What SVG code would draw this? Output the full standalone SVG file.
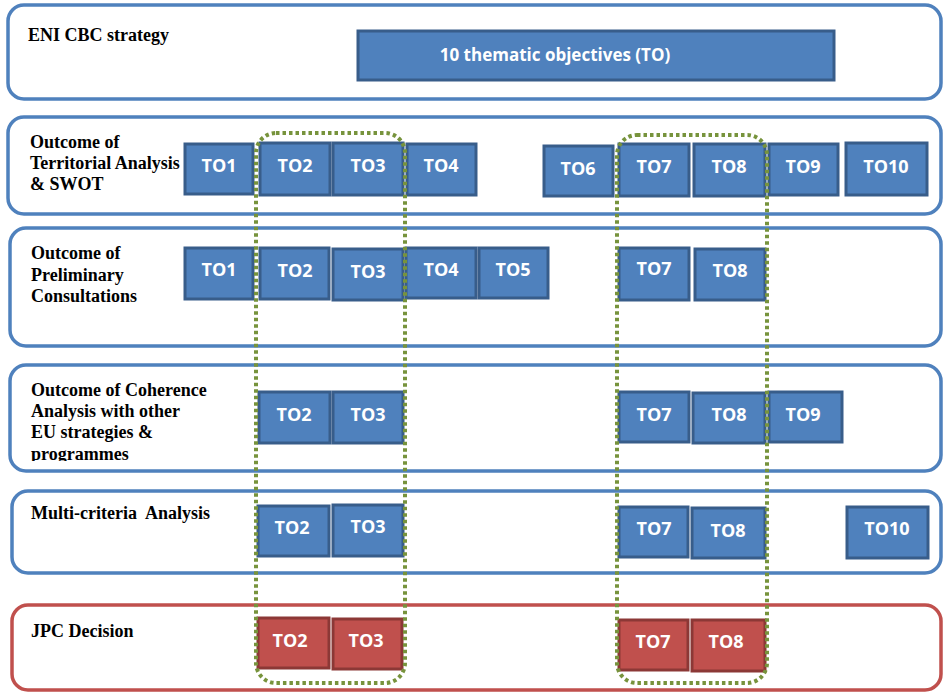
<svg xmlns="http://www.w3.org/2000/svg" width="945" height="694" viewBox="0 0 945 694">
<style>
.panel{fill:#fff;stroke:#4f81bd;stroke-width:3.5}
.panel.red{stroke:#c0504d}
.lbl{font-family:"Liberation Serif","Times New Roman",serif;font-weight:bold;font-size:18px;fill:#000}
.box rect{fill:#4f81bd;stroke:#385d8a;stroke-width:3}
.box.r rect{fill:#c0504d;stroke:#8c3836}
.box text{font-family:"Open Sans","Liberation Sans",sans-serif;font-weight:bold;font-size:18px;fill:#fff;text-anchor:middle}
.hl{fill:none;stroke:#77933c;stroke-width:4;stroke-dasharray:3.5 3}
</style>
<defs>
<clipPath id="clip4"><rect x="0" y="360" width="945" height="101"/></clipPath>
</defs>
<g id="panels">
<g id="p-eni"><rect class="panel" x="8" y="5" width="933" height="94" rx="16"/>
<text class="lbl" x="28" y="41">ENI CBC strategy</text></g>
<g id="p-territorial"><rect class="panel" x="8" y="117" width="933" height="97" rx="16"/>
<text class="lbl" x="30" y="148">Outcome of</text>
<text class="lbl" x="30" y="169">Territorial Analysis</text>
<text class="lbl" x="30" y="190">&amp; SWOT</text></g>
<g id="p-preliminary"><rect class="panel" x="10" y="228" width="931" height="118" rx="16"/>
<text class="lbl" x="31" y="259">Outcome of</text>
<text class="lbl" x="31" y="281">Preliminary</text>
<text class="lbl" x="31" y="302">Consultations</text></g>
<g id="p-coherence"><rect class="panel" x="10" y="365" width="931" height="106" rx="16"/>
<g clip-path="url(#clip4)">
<text class="lbl" x="31" y="396">Outcome of Coherence</text>
<text class="lbl" x="31" y="417">Analysis with other</text>
<text class="lbl" x="31" y="438">EU strategies &amp;</text>
<text class="lbl" x="31" y="460">programmes</text></g></g>
<g id="p-multicriteria"><rect class="panel" x="12" y="491" width="929" height="82" rx="16"/>
<text class="lbl" x="31" y="519" xml:space="preserve">Multi-criteria  Analysis</text></g>
<g id="p-jpc"><rect class="panel red" x="12" y="605" width="929" height="85" rx="16"/>
<text class="lbl" x="31" y="637">JPC Decision</text></g>
</g>
<g id="to-all" class="box"><rect x="358" y="31" width="476" height="49"/><text x="555" y="61" style="font-size:17px">10 thematic objectives (TO)</text></g>
<g id="row-territorial">
<g id="t-to1" class="box"><rect x="185" y="144" width="68" height="50"/><text x="219" y="172">TO1</text></g>
<g id="t-to2" class="box"><rect x="260" y="143" width="70" height="52"/><text x="295" y="172">TO2</text></g>
<g id="t-to3" class="box"><rect x="333" y="143" width="70" height="52"/><text x="368" y="172">TO3</text></g>
<g id="t-to4" class="box"><rect x="407" y="144" width="69" height="51"/><text x="441" y="172">TO4</text></g>
<g id="t-to6" class="box"><rect x="544" y="146" width="69" height="50"/><text x="578" y="175">TO6</text></g>
<g id="t-to7" class="box"><rect x="619" y="144" width="70" height="52"/><text x="654" y="173">TO7</text></g>
<g id="t-to8" class="box"><rect x="694" y="144" width="71" height="52"/><text x="729" y="173">TO8</text></g>
<g id="t-to9" class="box"><rect x="769" y="144" width="69" height="51"/><text x="803" y="173">TO9</text></g>
<g id="t-to10" class="box"><rect x="846" y="143" width="81" height="52"/><text x="886" y="173">TO10</text></g>
</g>
<g id="row-preliminary">
<g id="p-to1" class="box"><rect x="185" y="248" width="68" height="51"/><text x="219" y="276">TO1</text></g>
<g id="p-to2" class="box"><rect x="260" y="248" width="69" height="51"/><text x="295" y="277">TO2</text></g>
<g id="p-to3" class="box"><rect x="333" y="249" width="70" height="51"/><text x="368" y="278">TO3</text></g>
<g id="p-to4" class="box"><rect x="406" y="248" width="70" height="50"/><text x="441" y="276">TO4</text></g>
<g id="p-to5" class="box"><rect x="479" y="248" width="69" height="50"/><text x="513" y="276">TO5</text></g>
<g id="p-to7" class="box"><rect x="619" y="248" width="70" height="52"/><text x="654" y="275">TO7</text></g>
<g id="p-to8" class="box"><rect x="695" y="249" width="70" height="51"/><text x="730" y="277">TO8</text></g>
</g>
<g id="row-coherence">
<g id="c-to2" class="box"><rect x="259" y="392" width="71" height="51"/><text x="294" y="421">TO2</text></g>
<g id="c-to3" class="box"><rect x="333" y="392" width="70" height="51"/><text x="368" y="421">TO3</text></g>
<g id="c-to7" class="box"><rect x="619" y="392" width="70" height="50"/><text x="654" y="421">TO7</text></g>
<g id="c-to8" class="box"><rect x="693" y="393" width="72" height="50"/><text x="729" y="421">TO8</text></g>
<g id="c-to9" class="box"><rect x="769" y="392" width="73" height="50"/><text x="803" y="421">TO9</text></g>
</g>
<g id="row-multicriteria">
<g id="m-to2" class="box"><rect x="258" y="506" width="71" height="50"/><text x="292" y="534">TO2</text></g>
<g id="m-to3" class="box"><rect x="333" y="505" width="70" height="51"/><text x="368" y="533">TO3</text></g>
<g id="m-to7" class="box"><rect x="619" y="507" width="69" height="50"/><text x="654" y="535">TO7</text></g>
<g id="m-to8" class="box"><rect x="692" y="508" width="73" height="50"/><text x="728" y="537">TO8</text></g>
<g id="m-to10" class="box"><rect x="847" y="507" width="81" height="51"/><text x="887" y="535">TO10</text></g>
</g>
<g id="row-jpc">
<g id="j-to2" class="box r"><rect x="258" y="618" width="71" height="50"/><text x="290" y="647">TO2</text></g>
<g id="j-to3" class="box r"><rect x="333" y="619" width="69" height="50"/><text x="366" y="647">TO3</text></g>
<g id="j-to7" class="box r"><rect x="619" y="620" width="69" height="50"/><text x="653" y="648">TO7</text></g>
<g id="j-to8" class="box r"><rect x="692" y="620" width="73" height="51"/><text x="726" y="648">TO8</text></g>
</g>
<g id="connectors">
<rect class="hl" x="256" y="133" width="149" height="550" rx="20"/>
<rect class="hl" x="617" y="135" width="150" height="548" rx="20"/>
</g>
</svg>
